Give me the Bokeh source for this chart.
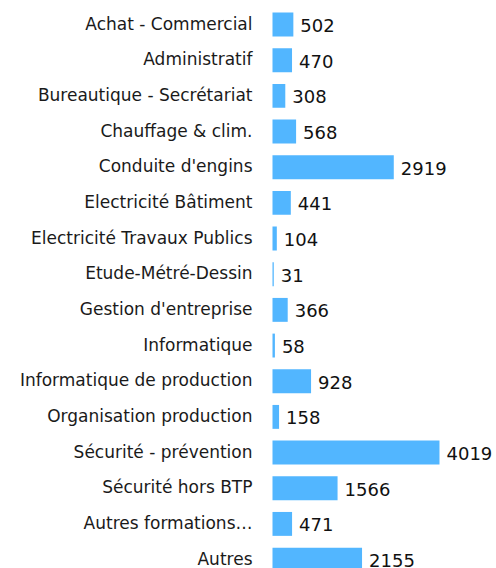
from bokeh.plotting import figure
from bokeh.models import Range1d, ColumnDataSource
from bokeh.core.properties import value
from bokeh.embed import file_html
from bokeh.resources import INLINE

categories = [
    "Achat - Commercial", "Administratif", "Bureautique - Secrétariat",
    "Chauffage & clim.", "Conduite d'engins", "Electricité Bâtiment",
    "Electricité Travaux Publics", "Etude-Métré-Dessin", "Gestion d'entreprise",
    "Informatique", "Informatique de production", "Organisation production",
    "Sécurité - prévention", "Sécurité hors BTP", "Autres formations…", "Autres",
]
values = [502, 470, 308, 568, 2919, 441, 104, 31, 366, 58, 928, 158, 4019, 1566, 471, 2155]

idx = list(range(len(categories)))
src = ColumnDataSource(dict(
    y=idx, v=values, cat=categories, lbl=[str(v) for v in values], zero=[0] * len(values),
))

p = figure(width=496, height=568, output_backend="svg", toolbar_location=None,
           x_range=Range1d(-6546, 5391), y_range=Range1d(15.25, -0.673),
           min_border_left=0, min_border_right=0, min_border_top=0, min_border_bottom=0,
           x_axis_location=None, y_axis_location=None)
p.outline_line_color = None
p.grid.visible = False
p.background_fill_color = "white"
p.border_fill_color = "white"

p.hbar(y="y", left=0, right="v", height=0.67, source=src,
       fill_color="#52b6ff", line_color=None)

p.text(x="zero", y="y", text="cat", source=src, x_offset=-20, y_offset=-1,
       text_align="right", text_baseline="middle",
       text_font=value("DejaVu Sans"), text_font_size="17px", text_color="#1a1a1a")
p.text(x="v", y="y", text="lbl", source=src, x_offset=7, y_offset=1,
       text_align="left", text_baseline="middle",
       text_font=value("DejaVu Sans"), text_font_size="18px", text_color="#111111")

open("out.html", "w").write(file_html(p, INLINE))
